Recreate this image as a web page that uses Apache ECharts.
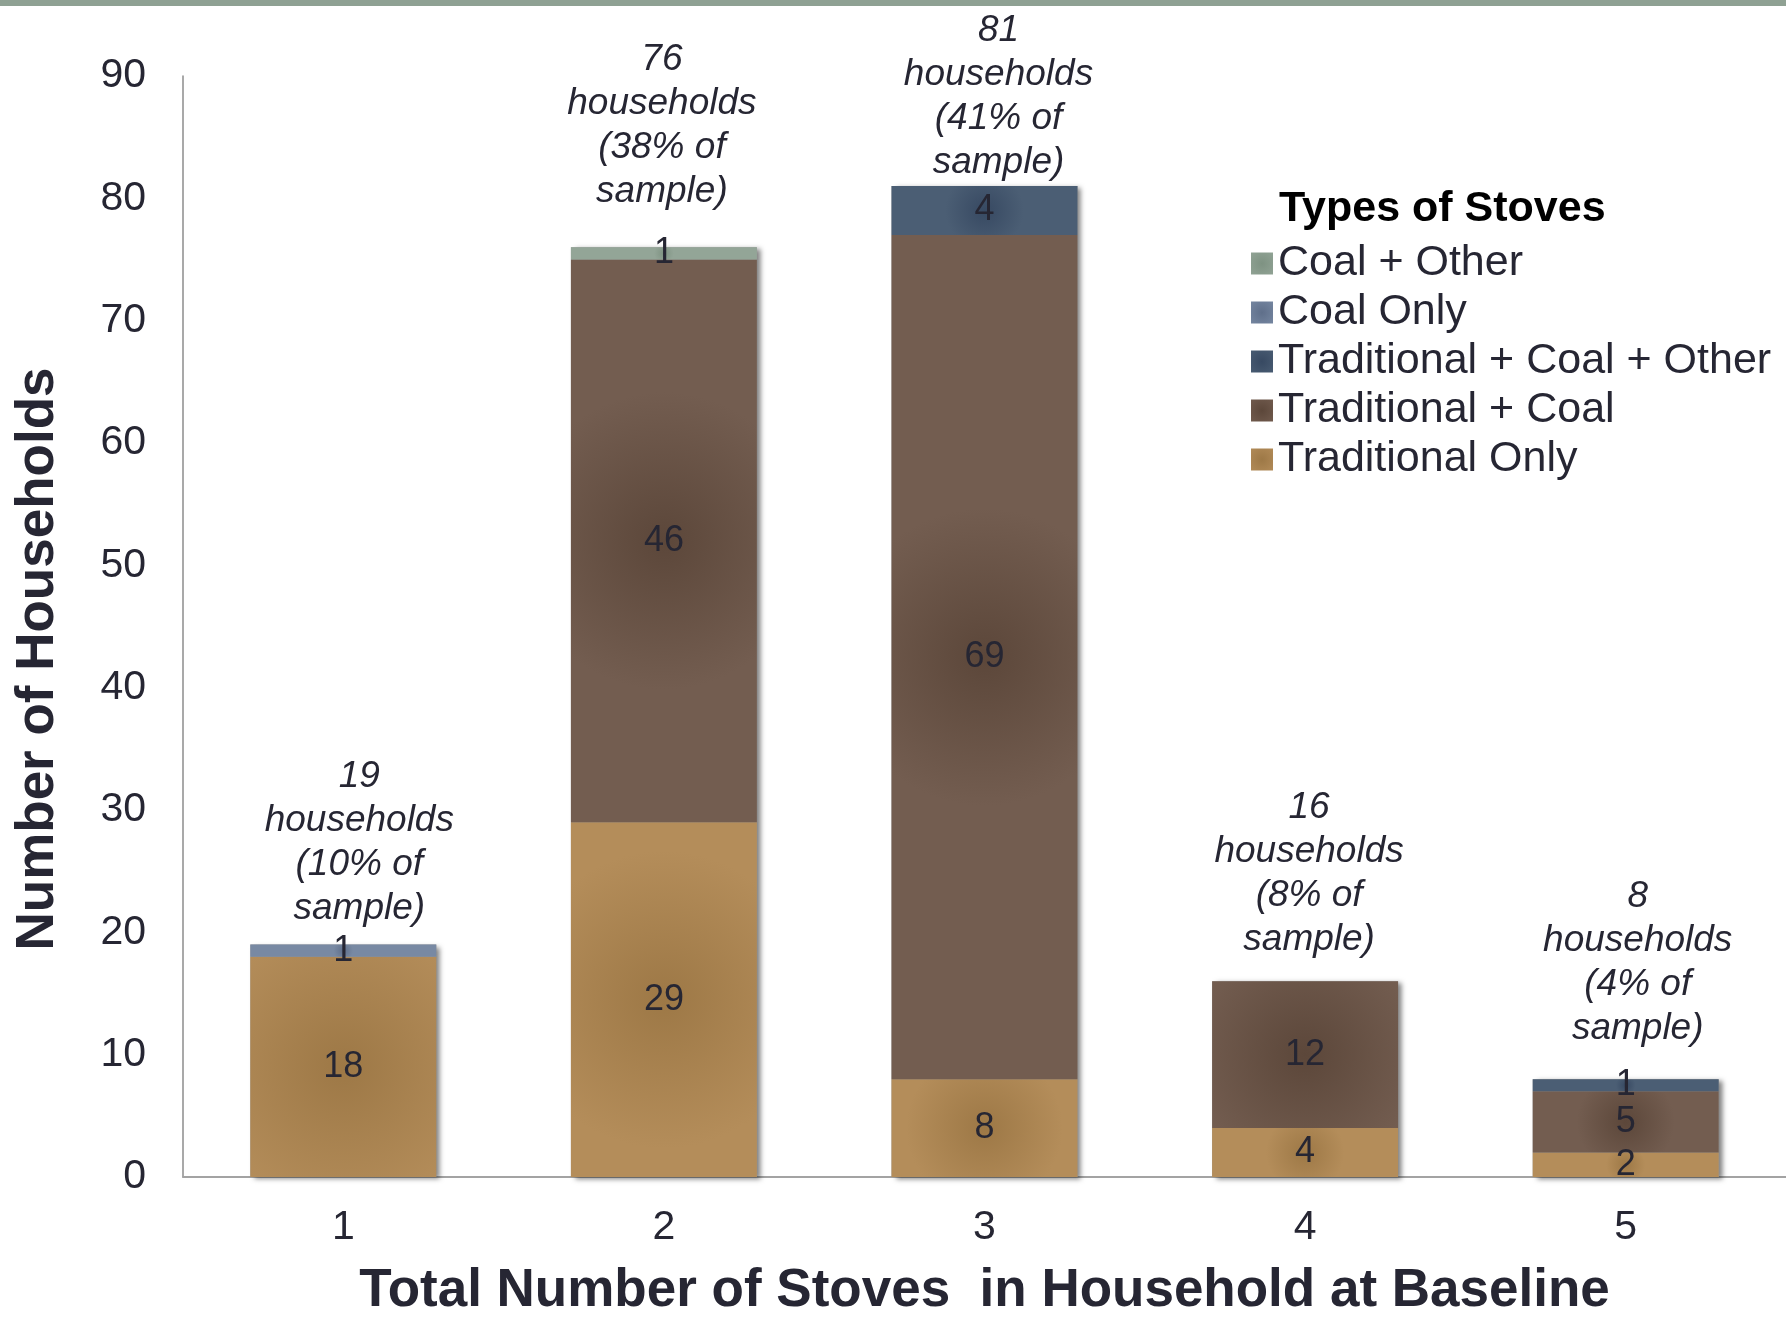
<!DOCTYPE html>
<html>
<head>
<meta charset="utf-8">
<script src="https://cdn.jsdelivr.net/npm/echarts@6/dist/echarts.min.js"></script>
<style>
html,body{margin:0;padding:0;background:#fff;}
#c{width:1786px;height:1323px;}
</style>
</head>
<body>
<div id="c"></div>
<script>
const categories = ['1', '2', '3', '4', '5'];
const traditionalOnly = [18, 29, 8, 4, 2];
const traditionalCoal = [0, 46, 69, 12, 5];
const traditionalCoalOther = [0, 0, 4, 0, 1];
const coalOnly = [1, 0, 0, 0, 0];
const coalOther = [0, 1, 0, 0, 0];
const sharePct = [10, 38, 41, 8, 4];
const yTicks = [0, 10, 20, 30, 40, 50, 60, 70, 80, 90];

const FONT = '"Liberation Sans", Arial, sans-serif';
const TXT = '#262633';

function radial(center, edge) {
  return {type: 'radial', x: 0.5, y: 0.5, r: 0.8,
    colorStops: [{offset: 0, color: center}, {offset: 1, color: edge}]};
}
function nz(arr) { return arr.map(v => v === 0 ? '-' : v); }

const totals = categories.map((_, i) =>
  traditionalOnly[i] + traditionalCoal[i] + traditionalCoalOther[i] + coalOnly[i] + coalOther[i]);
// annotation placement (style only)
const annotGap = [14, 34, 1, 20, 28];
const annotShift = [16, -2, 14, 4, 12];

const segLabel = {show: true, position: 'inside', color: TXT, fontSize: 36, fontFamily: FONT};

function seg(name, data, c1, c2) {
  return {
    name: name, type: 'bar', stack: 'total', data: nz(data), barWidth: '58%', barGap: '-100%', z: 3,
    itemStyle: {color: radial(c1, c2)},
    label: segLabel,
    emphasis: {disabled: true}
  };
}

const option = {
  backgroundColor: '#ffffff',
  animation: false,
  grid: {left: 183, right: 0, top: 76, bottom: 137, containLabel: false},
  legend: {
    orient: 'vertical', left: 1246, top: 237,
    data: ['Coal + Other', 'Coal Only', 'Traditional + Coal + Other', 'Traditional + Coal', 'Traditional Only'],
    itemWidth: 22, itemHeight: 22, itemGap: 6,
    icon: 'rect',
    textStyle: {fontSize: 43, fontFamily: FONT, color: TXT, lineHeight: 42, padding: [0, 0, 0, 0]},
    selectedMode: false
  },
  xAxis: {
    type: 'category', data: categories,
    axisLine: {show: true, lineStyle: {color: '#a3a3a3', width: 2}},
    axisTick: {show: false},
    axisLabel: {fontSize: 41, fontFamily: FONT, color: TXT, margin: 30},
    name: 'Total Number of Stoves  in Household at Baseline',
    nameLocation: 'middle', nameGap: 88,
    nameTextStyle: {fontSize: 53, fontWeight: 'bold', fontFamily: FONT, color: TXT}
  },
  yAxis: {
    type: 'value', min: yTicks[0], max: yTicks[yTicks.length - 1], interval: yTicks[1] - yTicks[0],
    axisLine: {show: true, lineStyle: {color: '#8c8c8c', width: 1.5}},
    axisTick: {show: false},
    splitLine: {show: false},
    axisLabel: {fontSize: 41, fontFamily: FONT, color: TXT, margin: 37}
  },
  graphic: [
    {type: 'rect', left: 0, top: 0, shape: {width: 1786, height: 6}, style: {fill: '#8fa193'}, z: 10},
    {type: 'text', x: 1279, y: 209, style: {text: 'Types of Stoves', fontSize: 43, fontWeight: 'bold',
      fontFamily: FONT, fill: '#000', textAlign: 'left', textVerticalAlign: 'middle'}, z: 10},
    {type: 'text', x: 38, y: 659, rotation: Math.PI / 2, style: {text: 'Number of Households', fontSize: 53,
      fontWeight: 'bold', fontFamily: FONT, fill: TXT, textAlign: 'center', textVerticalAlign: 'middle'}, z: 10}
  ],
  series: [
    {
      name: 'totals', type: 'bar', data: totals.map((v, i) => ({
        value: v,
        label: {distance: annotGap[i], offset: [annotShift[i], 0]}
      })),
      barWidth: '58%', barGap: '-100%', z: 1,
      itemStyle: {color: '#999', shadowColor: 'rgba(0,0,0,0.5)', shadowBlur: 5, shadowOffsetX: 4, shadowOffsetY: 2},
      label: {
        show: true, position: 'top', color: TXT, fontSize: 37, fontStyle: 'italic', fontFamily: FONT,
        lineHeight: 44, align: 'center',
        formatter: p => p.value + '\nhouseholds\n(' + sharePct[p.dataIndex] + '% of\nsample)'
      },
      emphasis: {disabled: true}, tooltip: {show: false}
    },
    seg('Traditional Only', traditionalOnly, '#9d7846', '#b48d5a'),
    seg('Traditional + Coal', traditionalCoal, '#5c473a', '#735d50'),
    seg('Traditional + Coal + Other', traditionalCoalOther, '#374962', '#4b5e74'),
    seg('Coal Only', coalOnly, '#5f6f8a', '#7889a3'),
    seg('Coal + Other', coalOther, '#7e9282', '#93a597')
  ]
};

const chart = echarts.init(document.getElementById('c'), null, {renderer: 'canvas'});
chart.setOption(option);
</script>
</body>
</html>
